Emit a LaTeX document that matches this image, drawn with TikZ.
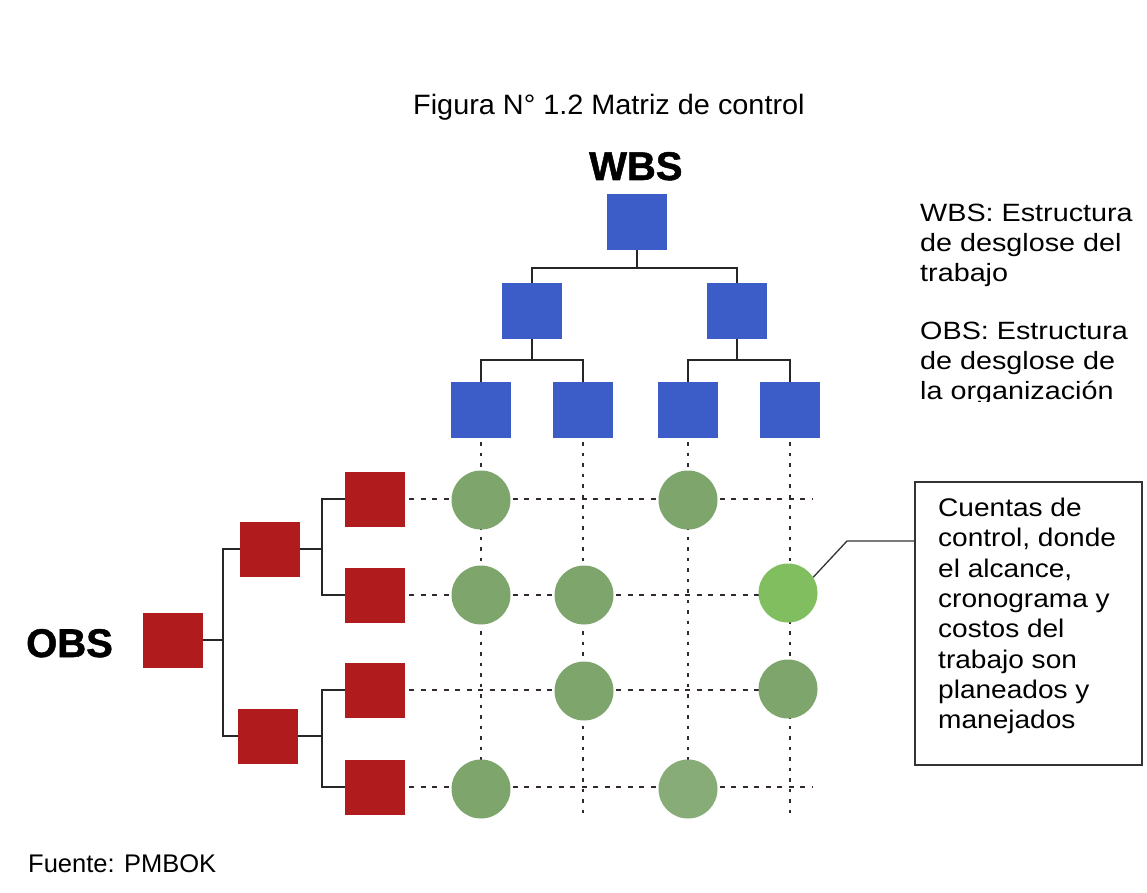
\documentclass[tikz,border=0pt]{standalone}
\usepackage{fontspec}
\setmainfont{Liberation Sans}
\newfontfamily\legendfont[FakeStretch=1.15]{Liberation Sans}
\newfontfamily\calloutfont[FakeStretch=1.1]{Liberation Sans}
\newfontfamily\titlefont[FakeStretch=1.03]{Liberation Sans}
\newfontfamily\heavyfont[BoldFeatures={FakeBold=1.3}]{Liberation Sans}
\definecolor{wbsblue}{RGB}{60,92,200}
\definecolor{obsred}{RGB}{176,28,30}
\definecolor{acctgreen}{RGB}{125,165,108}
\definecolor{acctlight}{RGB}{128,190,96}
\definecolor{gridgray}{RGB}{50,42,48}
\begin{document}
\begin{tikzpicture}[x=1pt,y=-1pt,
  wbs/.style={fill=wbsblue, minimum width=60pt, minimum height=56pt, inner sep=0pt},
  obs/.style={fill=obsred, minimum width=60pt, minimum height=55pt, inner sep=0pt},
  acct/.style={circle, fill=acctgreen, minimum size=59pt, inner sep=0pt},
  tree/.style={draw=black!85, line width=2pt},
  hgrid/.style={draw=gridgray, line width=2.8pt, dash pattern=on 5pt off 6.5pt},
  vgrid/.style={draw=gridgray, line width=2.6pt, dash pattern=on 3.5pt off 7pt},
  lbl/.style={font=\heavyfont\fontsize{40}{44}\selectfont\bfseries, inner sep=0pt, anchor=base west},
  note/.style={font=\legendfont\fontsize{25}{30}\selectfont, inner sep=0pt, align=left, anchor=north west},
  callbox/.style={draw=black!80, line width=1.3pt, minimum width=227pt, minimum height=283pt, inner sep=0pt},
  calltext/.style={inner sep=0pt, align=left, anchor=north west,
    font=\calloutfont\fontsize{25.5}{30.3}\selectfont}
]
\useasboundingbox (0,0) rectangle (1147,893);
\fill[white] (0,0) rectangle (1147,893);

% titles
\node[inner sep=0pt, anchor=base west, font=\titlefont\fontsize{28}{32}\selectfont] (title) at (413,115) {Figura N° 1.2 Matriz de control};
\node[lbl] (wbslbl) at (589,180) {WBS};
\node[lbl] (obslbl) at (26,657) {OBS};
\node[inner sep=0pt, anchor=base west, font=\fontsize{25.5}{30}\selectfont] (src) at (28,872) {Fuente: PMBOK};

% legend
\node[note] (leg1) at (920,204) {WBS: Estructura\\de desglose del\\trabajo};
\begin{scope}
  \clip (900,300) rectangle (1147,401);
  \node[note] (leg2) at (920,322) {OBS: Estructura\\de desglose de\\la organización};
\end{scope}

% WBS tree
\node[wbs] (w0) at (637,222) {};
\node[wbs] (w1) at (532,311) {};
\node[wbs] (w2) at (737,311) {};
\node[wbs] (w3) at (481,410) {};
\node[wbs] (w4) at (583,410) {};
\node[wbs] (w5) at (688,410) {};
\node[wbs] (w6) at (790,410) {};
\draw[tree] (w0.south) -- ++(0,18) -| (w1.north);
\draw[tree] (w0.south) -- ++(0,18) -| (w2.north);
\draw[tree] (w1.south) -- ++(0,21) -| (w3.north);
\draw[tree] (w1.south) -- ++(0,21) -| (w4.north);
\draw[tree] (w2.south) -- ++(0,21) -| (w5.north);
\draw[tree] (w2.south) -- ++(0,21) -| (w6.north);

% OBS tree
\node[obs] (o0) at (173,640) {};
\node[obs] (o1) at (270,549) {};
\node[obs] (o2) at (268,736) {};
\node[obs] (o3) at (375,499) {};
\node[obs] (o4) at (375,595) {};
\node[obs] (o5) at (375,690) {};
\node[obs] (o6) at (375,787) {};
\draw[tree] (o0.east) -- ++(20,0) |- (o1.west);
\draw[tree] (o0.east) -- ++(20,0) |- (o2.west);
\draw[tree] (o1.east) -- ++(22,0) |- (o3.west);
\draw[tree] (o1.east) -- ++(22,0) |- (o4.west);
\draw[tree] (o2.east) -- ++(24,0) |- (o5.west);
\draw[tree] (o2.east) -- ++(24,0) |- (o6.west);

% grid
\coordinate (re) at (812,0);
\coordinate (be) at (0,815);
\foreach \o in {o3,o4,o5,o6} \draw[hgrid] ([xshift=4pt]\o.east) -- (\o.east -| re);
\foreach \w in {w3,w4,w5,w6} \draw[vgrid] ([yshift=-4pt]\w.south) -- (\w.south |- be);

% control accounts
\node[acct] (a11) at (481,500) {};
\node[acct] (a13) at (688,500) {};
\node[acct] (a21) at (481,595) {};
\node[acct] (a22) at (584,595) {};
\node[acct, fill=acctlight] (a24) at (788,593) {};
\node[acct] (a32) at (584,691) {};
\node[acct] (a34) at (788,689) {};
\node[acct] (a41) at (481,789) {};
\node[acct, fill=acctgreen!92!white] (a43) at (688,789) {};

% callout
\node[callbox] (cbox) at (1028.5,623.5) {};
\node[calltext] (ctext) at (938,498) {Cuentas de\\control, donde\\el alcance,\\cronograma y\\costos del\\trabajo son\\planeados y\\manejados};
\coordinate (knee) at (847,541);
\draw[draw=black!80, line width=1.3pt] (a24.32) -- (knee) -- (knee -| cbox.west);
\end{tikzpicture}
\end{document}
